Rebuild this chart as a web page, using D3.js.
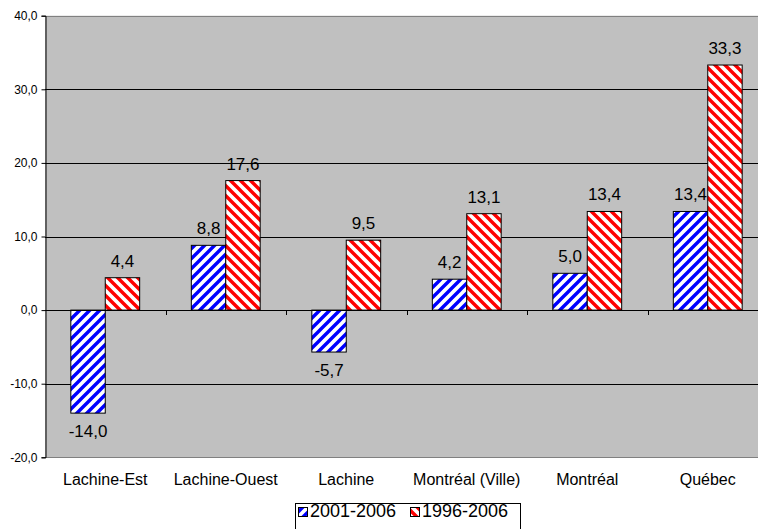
<!DOCTYPE html>
<html>
<head>
<meta charset="utf-8">
<script src="https://cdn.jsdelivr.net/npm/d3@7"></script>
<style>
  html, body { margin: 0; padding: 0; background: #fff; }
  svg { display: block; font-family: "Liberation Sans", Arial, sans-serif; }
</style>
</head>
<body>
<svg id="chart" width="758" height="529"></svg>
<script>
const categories = ["Lachine-Est", "Lachine-Ouest", "Lachine", "Montréal (Ville)", "Montréal", "Québec"];
const seriesNames = ["2001-2006", "1996-2006"];
const values2001_2006 = [-14.0, 8.8, -5.7, 4.2, 5.0, 13.4];
const values1996_2006 = [4.4, 17.6, 9.5, 13.1, 13.4, 33.3];
const yTicks = [-20, -10, 0, 10, 20, 30, 40];

(function () {
const seriesValues = [values2001_2006, values1996_2006];
const colors = ["#0000FF", "#FF0000"];

const locale = d3.formatLocale({decimal: ",", thousands: " ", grouping: [3], currency: ["", ""], minus: "-"});
const fmt = locale.format(".1f");

const svg = d3.select("#chart");
const pLeft = 45, pTop = 15.7, pBottom = 457.3, band = 120.5;
const pRight = pLeft + band * categories.length;

const x = d3.scaleBand().domain(categories).range([pLeft, pRight]).padding(0);
const xs = d3.scaleBand().domain(seriesNames).range([0, x.bandwidth()]).paddingInner(0).paddingOuter(0.75);
const y = d3.scaleLinear().domain([-20, 40]).range([pBottom, pTop]);

// patterns
const P = 10, SW = 3.4;
const defs = svg.append("defs");
const pBlue = defs.append("pattern").attr("id", "p0").attr("patternUnits", "userSpaceOnUse")
  .attr("width", P).attr("height", P);
pBlue.append("rect").attr("width", P).attr("height", P).attr("fill", "#fff");
pBlue.append("path").attr("d", `M-3,3 L3,-3 M0,${P} L${P},0 M${P-3},${P+3} L${P+3},${P-3}`)
  .attr("stroke", colors[0]).attr("stroke-width", SW);
const pRed = defs.append("pattern").attr("id", "p1").attr("patternUnits", "userSpaceOnUse")
  .attr("width", P).attr("height", P);
pRed.append("rect").attr("width", P).attr("height", P).attr("fill", "#fff");
pRed.append("path").attr("d", `M-3,${P-3} L3,${P+3} M0,0 L${P},${P} M${P-3},-3 L${P+3},3`)
  .attr("stroke", colors[1]).attr("stroke-width", SW);

// plot area
svg.append("rect").attr("x", pLeft).attr("y", pTop).attr("width", pRight - pLeft).attr("height", pBottom - pTop)
  .attr("fill", "#C0C0C0");
// gridlines
svg.append("g").selectAll("line").data(yTicks.filter(t => t !== 0 && t !== 40 && t !== -20)).join("line")
  .attr("x1", pLeft).attr("x2", pRight)
  .attr("y1", d => Math.round(y(d)) + 0.5).attr("y2", d => Math.round(y(d)) + 0.5)
  .attr("stroke", "#000").attr("stroke-width", 1);
// border top/bottom
svg.append("line").attr("x1", pLeft).attr("x2", pRight).attr("y1", Math.round(pTop) + 0.5).attr("y2", Math.round(pTop) + 0.5)
  .attr("stroke", "#808080");
svg.append("line").attr("x1", pLeft).attr("x2", pRight).attr("y1", Math.round(pBottom) + 0.5).attr("y2", Math.round(pBottom) + 0.5)
  .attr("stroke", "#808080");

// bars
const gBars = svg.append("g");
seriesValues.forEach((vals, si) => {
  gBars.append("g").selectAll("rect").data(vals).join("rect")
    .attr("x", (d, i) => x(categories[i]) + xs(seriesNames[si]))
    .attr("width", xs.bandwidth())
    .attr("y", d => y(Math.max(0, d)))
    .attr("height", d => Math.abs(y(d) - y(0)))
    .attr("fill", `url(#p${si})`)
    .attr("stroke", "#000").attr("stroke-width", 1);
});

// y axis
const yAxis = d3.axisLeft(y).tickValues(yTicks).tickFormat(fmt).tickSize(4).tickPadding(4);
const gy = svg.append("g").attr("transform", `translate(${pLeft + 0.5},0)`).call(yAxis);
gy.select(".domain").attr("stroke", "#000");
gy.selectAll(".tick line").attr("stroke", "#000");
gy.selectAll("text").attr("font-size", 12).attr("fill", "#000").attr("font-family", "Liberation Sans, Arial, sans-serif");

// x axis at zero
const y0 = Math.round(y(0)) + 0.5;
svg.append("line").attr("x1", pLeft).attr("x2", pRight).attr("y1", y0).attr("y2", y0).attr("stroke", "#000");
svg.append("g").selectAll("line").data(categories.slice(1)).join("line")
  .attr("x1", d => Math.round(x(d)) + 0.5).attr("x2", d => Math.round(x(d)) + 0.5)
  .attr("y1", y0).attr("y2", y0 + 4.5).attr("stroke", "#000");

// value labels
const gLab = svg.append("g").attr("font-size", 17).attr("text-anchor", "middle").attr("fill", "#000");
seriesValues.forEach((vals, si) => {
  gLab.append("g").selectAll("text").data(vals).join("text")
    .attr("x", (d, i) => x(categories[i]) + xs(seriesNames[si]) + xs.bandwidth() / 2)
    .attr("y", d => d >= 0 ? y(d) - 11 : y(d) + 23.5)
    .text(d => fmt(d));
});

// category labels
svg.append("g").attr("font-size", 16).attr("text-anchor", "middle").selectAll("text").data(categories).join("text")
  .attr("x", d => x(d) + x.bandwidth() / 2).attr("y", 485).text(d => d);

// legend
const lg = svg.append("g");
const legX = 295.5, legY = 503.5;
lg.append("rect").attr("x", legX).attr("y", legY).attr("width", 225).attr("height", 40)
  .attr("fill", "#fff").attr("stroke", "#000");
const itemX = [298, 410];
seriesNames.forEach((s, i) => {
  lg.append("rect").attr("x", itemX[i] + 0.5).attr("y", 507.5).attr("width", 9).attr("height", 9)
    .attr("fill", `url(#p${i})`).attr("stroke", "#000");
  lg.append("text").attr("x", itemX[i] + 12).attr("y", 517).attr("font-size", 18).text(s);
});
})();
</script>
</body>
</html>
